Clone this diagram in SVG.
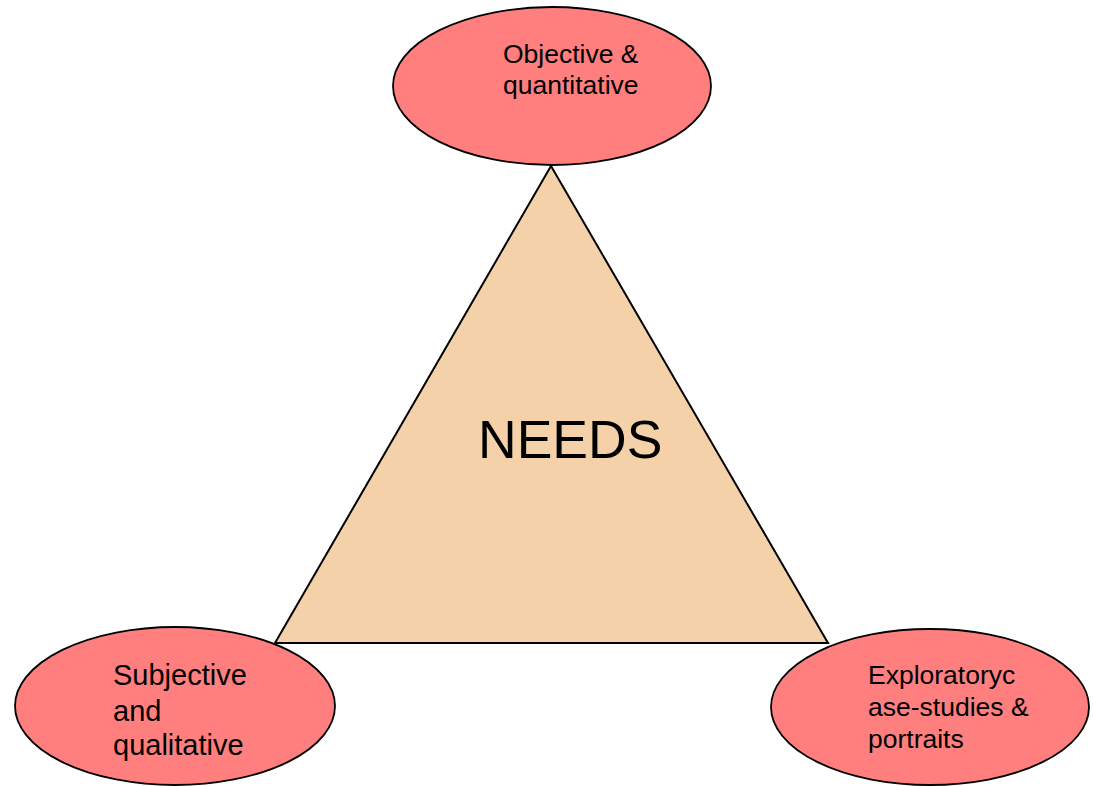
<svg xmlns="http://www.w3.org/2000/svg" width="1093" height="786" viewBox="0 0 1093 786">
<style>
.node{fill:#FF7F7F;stroke:#000;stroke-width:1.8}
.tri{fill:#F4D1A9;stroke:#000;stroke-width:2}
text{font-family:"Liberation Sans",Arial,sans-serif;fill:#000}
.lbl{font-size:26.5px}
.lbl2{font-size:29px}
.big{font-size:53.5px}
</style>
<rect width="1093" height="786" fill="#fff"/>
<g id="needs">
<polygon class="tri" points="551,166 275,643 828,643"/>
<text class="big" x="478" y="458">NEEDS</text>
</g>
<g id="connectors"></g>
<g id="objective">
<ellipse class="node" cx="552" cy="86" rx="159" ry="79"/>
<text class="lbl" x="503" y="63">Objective &amp;</text>
<text class="lbl" x="503" y="94">quantitative</text>
</g>
<g id="subjective">
<ellipse class="node" cx="175" cy="706" rx="160" ry="79"/>
<text class="lbl2" x="113" y="685">Subjective</text>
<text class="lbl2" x="113" y="721">and</text>
<text class="lbl2" x="113" y="755">qualitative</text>
</g>
<g id="exploratory">
<ellipse class="node" cx="930" cy="707" rx="159" ry="78"/>
<text class="lbl" x="868" y="684">Exploratoryc</text>
<text class="lbl" x="868" y="716">ase-studies &amp;</text>
<text class="lbl" x="868" y="748">portraits</text>
</g>
</svg>
